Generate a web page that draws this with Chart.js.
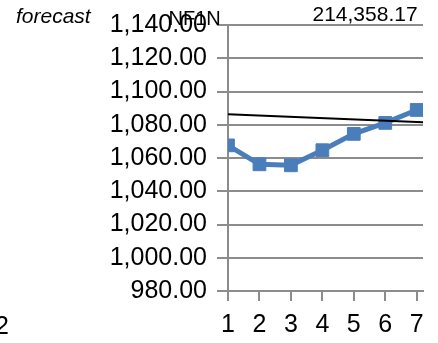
<!DOCTYPE html>
<html>
<head>
<meta charset="utf-8">
<script src="https://cdn.jsdelivr.net/npm/chart.js@4/dist/chart.umd.min.js"></script>
<style>
  html, body { margin: 0; padding: 0; background: #fff; overflow: hidden; }
  #wrap { position: relative; width: 438px; height: 343px; }
</style>
</head>
<body>
<div id="wrap"><canvas id="c" width="438" height="343"></canvas></div>
<script>
// Period numbers along the x axis
const categories = [1, 2, 3, 4, 5, 6, 7];
// Observed values per period
const seriesValues = [1067.6, 1056.2, 1055.6, 1064.7, 1074.5, 1081.1, 1088.9];
// Straight forecast line: x positions and values at its two ends
const trendX = [1, 7.2];
const trendValues = [1086.3, 1081.5];
// Value axis ticks
const yTickValues = [980, 1000, 1020, 1040, 1060, 1080, 1100, 1120, 1140];
// Free-standing captions
const captionForecast = 'forecast';
const captionCode = 'NF1N';
const captionTotal = '214,358.17';
const captionSide = '2';

const FONT = "'Liberation Sans', Arial, sans-serif";
const GRID = '#8c8c8c';
const BLUE = '#4a7ebb';

const fmt = v => v.toLocaleString('en-US', { minimumFractionDigits: 2, maximumFractionDigits: 2 });

const captions = {
  id: 'captions',
  afterDraw(chart) {
    const ctx = chart.ctx;
    ctx.save();
    ctx.fillStyle = '#000';
    ctx.textBaseline = 'alphabetic';
    ctx.textAlign = 'left';
    ctx.font = 'italic 21px ' + FONT;
    ctx.fillText(captionForecast, 16, 23);
    ctx.font = '20px ' + FONT;
    ctx.fillText(captionCode, 168.5, 25);
    ctx.font = '21px ' + FONT;
    ctx.fillText(captionTotal, 312.5, 21);
    ctx.font = '25px ' + FONT;
    ctx.fillText(captionSide, -5, 333.5);
    ctx.restore();
  }
};

new Chart(document.getElementById('c'), {
  type: 'line',
  data: {
    datasets: [
      {
        label: 'trend',
        data: trendX.map((x, i) => ({ x, y: trendValues[i] })),
        borderColor: '#000',
        borderWidth: 2,
        pointRadius: 0,
        fill: false,
        tension: 0
      },
      {
        label: 'NF1N',
        data: categories.map((x, i) => ({ x, y: seriesValues[i] })),
        borderColor: BLUE,
        backgroundColor: BLUE,
        borderWidth: 5,
        pointStyle: 'rect',
        pointRadius: 9,
        pointBorderWidth: 1,
        pointBorderColor: BLUE,
        pointBackgroundColor: BLUE,
        fill: false,
        tension: 0
      }
    ]
  },
  options: {
    responsive: false,
    animation: false,
    devicePixelRatio: 1,
    layout: { padding: { left: 0, right: 15, top: 24, bottom: 0 } },
    plugins: { legend: { display: false }, tooltip: { enabled: false }, title: { display: false } },
    scales: {
      x: {
        type: 'linear',
        min: 1,
        max: 7.2,
        afterBuildTicks: s => { s.ticks = categories.map(v => ({ value: v })); },
        afterFit: s => { s.height = 52; },
        grid: { drawOnChartArea: false, drawTicks: true, tickLength: 10, color: GRID, lineWidth: 2 },
        border: { display: true, color: GRID, width: 2 },
        ticks: { font: { family: FONT, size: 25 }, color: '#000', padding: 9, maxRotation: 0, autoSkip: false,
                 callback: v => String(v) }
      },
      y: {
        min: 980,
        max: 1140,
        afterBuildTicks: s => { s.ticks = yTickValues.map(v => ({ value: v })); },
        afterFit: s => { s.width = 228; },
        grid: { color: GRID, lineWidth: 2, drawTicks: true, tickLength: 11 },
        border: { display: true, color: GRID, width: 2 },
        ticks: { font: { family: FONT, size: 25 }, color: '#000', padding: 10, callback: v => fmt(v) }
      }
    }
  },
  plugins: [captions]
});
</script>
</body>
</html>
